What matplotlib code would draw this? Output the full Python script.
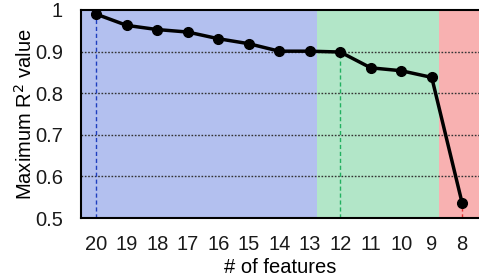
import matplotlib.pyplot as plt

plt.rcParams['font.family'] = ['Liberation Sans', 'DejaVu Sans']

# data
n_features = [20, 19, 18, 17, 16, 15, 14, 13, 12, 11, 10, 9, 8]
max_r2 = [0.990, 0.963, 0.953, 0.947, 0.931, 0.919, 0.901, 0.901, 0.899, 0.861, 0.854, 0.838, 0.535]
yticks = [0.5, 0.6, 0.7, 0.8, 0.9, 1.0]
ytick_labels = ['0.5', '0.6', '0.7', '0.8', '0.9', '1']
regions = [(20.5, 12.75, '#b3c0ef'), (12.75, 8.75, '#b2e6c8'), (8.75, 7.45, '#f8b1b1')]
markers = [(20, '#1f3fbf'), (12, '#22b060'), (8, '#e03030')]

fig = plt.figure(figsize=(4.79, 2.79), dpi=100)
ax = fig.add_axes([81 / 479, 61 / 279, 398 / 479, 208 / 279])

for x0, x1, c in regions:
    ax.axvspan(x0, x1, color=c, lw=0, zorder=0)

for y in [0.6, 0.7, 0.8, 0.9]:
    ax.axhline(y, color='#333333', ls=(0, (1.2, 1.2)), lw=1, zorder=1)

for xv, c in markers:
    yv = max_r2[n_features.index(xv)]
    ax.plot([xv, xv], [0.5, yv], color=c, ls=(0, (3, 2)), lw=1, zorder=2)

ax.plot(n_features, max_r2, color='black', lw=2.5, marker='o', ms=7, zorder=3)

ax.set_xlim(20.5, 7.45)
ax.set_ylim(0.5, 1.0)
ax.set_xticks(n_features)
ax.set_xticklabels([str(n) for n in n_features])
ax.set_yticks(yticks)
ax.set_yticklabels(ytick_labels)
ax.tick_params(length=0, labelsize=14.5, colors='#1a1a1a')
ax.tick_params(axis='x', pad=12)
ax.tick_params(axis='y', pad=13)
for s in ax.spines.values():
    s.set_linewidth(1.5)
ax.spines['right'].set_visible(False)

ax.set_xlabel('# of features', fontsize=14.5, labelpad=3)
ax.set_ylabel('Maximum R$^2$ value', fontsize=14.5, labelpad=-0.5)

fig.savefig('out.png', dpi=100)
